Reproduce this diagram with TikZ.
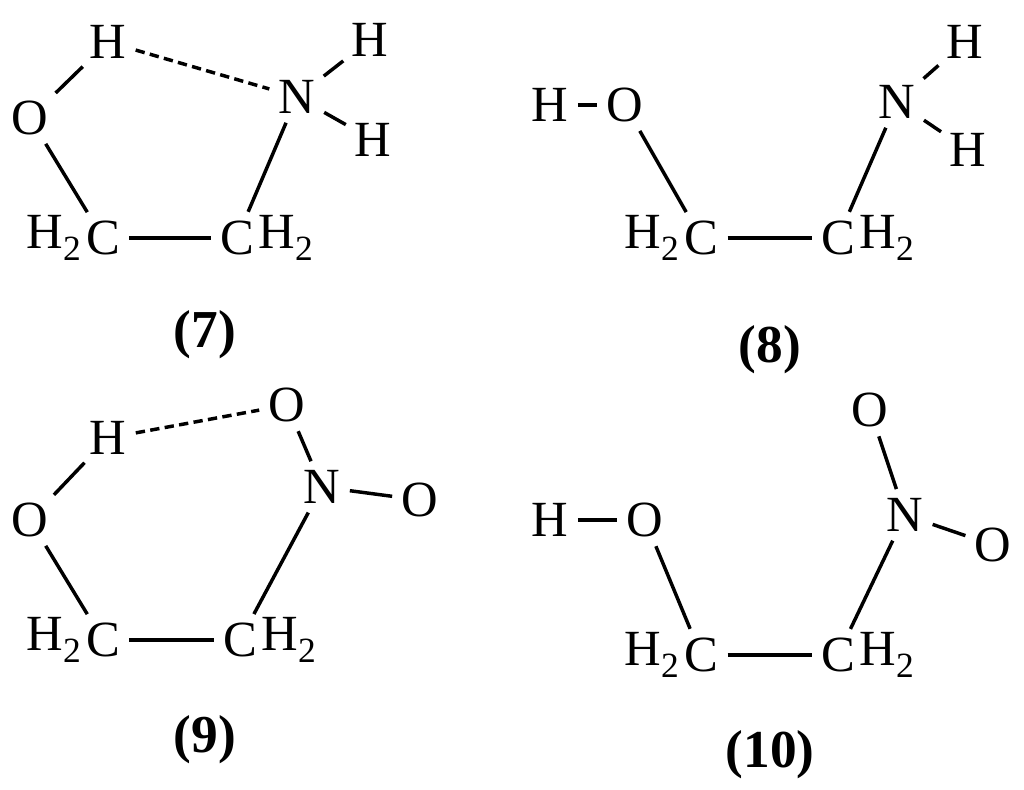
\documentclass[tikz,border=0pt]{standalone}
\usepackage{fontspec}
\setmainfont{Liberation Serif}
\begin{document}
\begin{tikzpicture}[x=0.75pt,y=-0.75pt,
 atm/.style={font=\fontsize{38}{40}\selectfont,inner sep=3pt},
 lab/.style={font=\fontsize{40}{42}\selectfont\bfseries,inner sep=0pt},
 bond/.style={line width=2.6pt,shorten >=4pt,shorten <=4pt},
 hb/.style={bond,dash pattern=on 7pt off 4pt}]
\useasboundingbox (0,0) rectangle (1024,789);
% ---- 7
\node[atm] (H7) at (108,42) {H};
\node[atm] (O7) at (30,118) {O};
\node[atm] (N7) at (297,97) {N};
\node[atm] (Ha7) at (370,40) {H};
\node[atm] (Hb7) at (373,140) {H};
\node[atm] (Ca7) at (103,238) {C};
\node[atm,anchor=east,inner sep=0] at (Ca7.west) {H\textsubscript{2}};
\node[atm] (Cb7) at (237,238) {C};
\node[atm,anchor=west,inner sep=0] at (Cb7.east) {H\textsubscript{2}};
\draw[bond] (H7) -- (O7);
\draw[bond] (O7) -- (Ca7);
\draw[bond] (Ca7) -- (Cb7);
\draw[bond] (Cb7) -- (N7);
\draw[bond] (N7) -- (Ha7);
\draw[bond] (N7) -- (Hb7);
\draw[hb] (H7) -- (N7);
\node[lab] (L7) at (205,335) {(7)};
% ---- 8
\node[atm] (H8) at (550,105) {H};
\node[atm] (O8) at (625,105) {O};
\node[atm] (N8) at (897,102) {N};
\node[atm] (Ha8) at (965,42) {H};
\node[atm] (Hb8) at (968,150) {H};
\node[atm] (Ca8) at (701,238) {C};
\node[atm,anchor=east,inner sep=0] at (Ca8.west) {H\textsubscript{2}};
\node[atm] (Cb8) at (838,238) {C};
\node[atm,anchor=west,inner sep=0] at (Cb8.east) {H\textsubscript{2}};
\draw[bond] (H8) -- (O8);
\draw[bond] (O8) -- (Ca8);
\draw[bond] (Ca8) -- (Cb8);
\draw[bond] (Cb8) -- (N8);
\draw[bond] (N8) -- (Ha8);
\draw[bond] (N8) -- (Hb8);
\node[lab] (L8) at (770,350) {(8)};
% ---- 9
\node[atm] (Ot9) at (287,405) {O};
\node[atm] (H9) at (108,438) {H};
\node[atm] (O9) at (30,520) {O};
\node[atm] (N9) at (322,487) {N};
\node[atm] (Or9) at (420,500) {O};
\node[atm] (Ca9) at (103,640) {C};
\node[atm,anchor=east,inner sep=0] at (Ca9.west) {H\textsubscript{2}};
\node[atm] (Cb9) at (240,640) {C};
\node[atm,anchor=west,inner sep=0] at (Cb9.east) {H\textsubscript{2}};
\draw[bond] (H9) -- (O9);
\draw[bond] (O9) -- (Ca9);
\draw[bond] (Ca9) -- (Cb9);
\draw[bond] (Cb9) -- (N9);
\draw[bond] (N9) -- (Ot9);
\draw[bond] (N9) -- (Or9);
\draw[hb] (H9) -- (Ot9);
\node[lab] (L9) at (205,740) {(9)};
% ---- 10
\node[atm] (H10) at (550,520) {H};
\node[atm] (O10) at (645,520) {O};
\node[atm] (Ot10) at (870,410) {O};
\node[atm] (N10) at (905,515) {N};
\node[atm] (Or10) at (993,545) {O};
\node[atm] (Ca10) at (701,655) {C};
\node[atm,anchor=east,inner sep=0] at (Ca10.west) {H\textsubscript{2}};
\node[atm] (Cb10) at (838,655) {C};
\node[atm,anchor=west,inner sep=0] at (Cb10.east) {H\textsubscript{2}};
\draw[bond] (H10) -- (O10);
\draw[bond] (O10) -- (Ca10);
\draw[bond] (Ca10) -- (Cb10);
\draw[bond] (Cb10) -- (N10);
\draw[bond] (N10) -- (Ot10);
\draw[bond] (N10) -- (Or10);
\node[lab] (L10) at (770,755) {(10)};
\end{tikzpicture}
\end{document}
